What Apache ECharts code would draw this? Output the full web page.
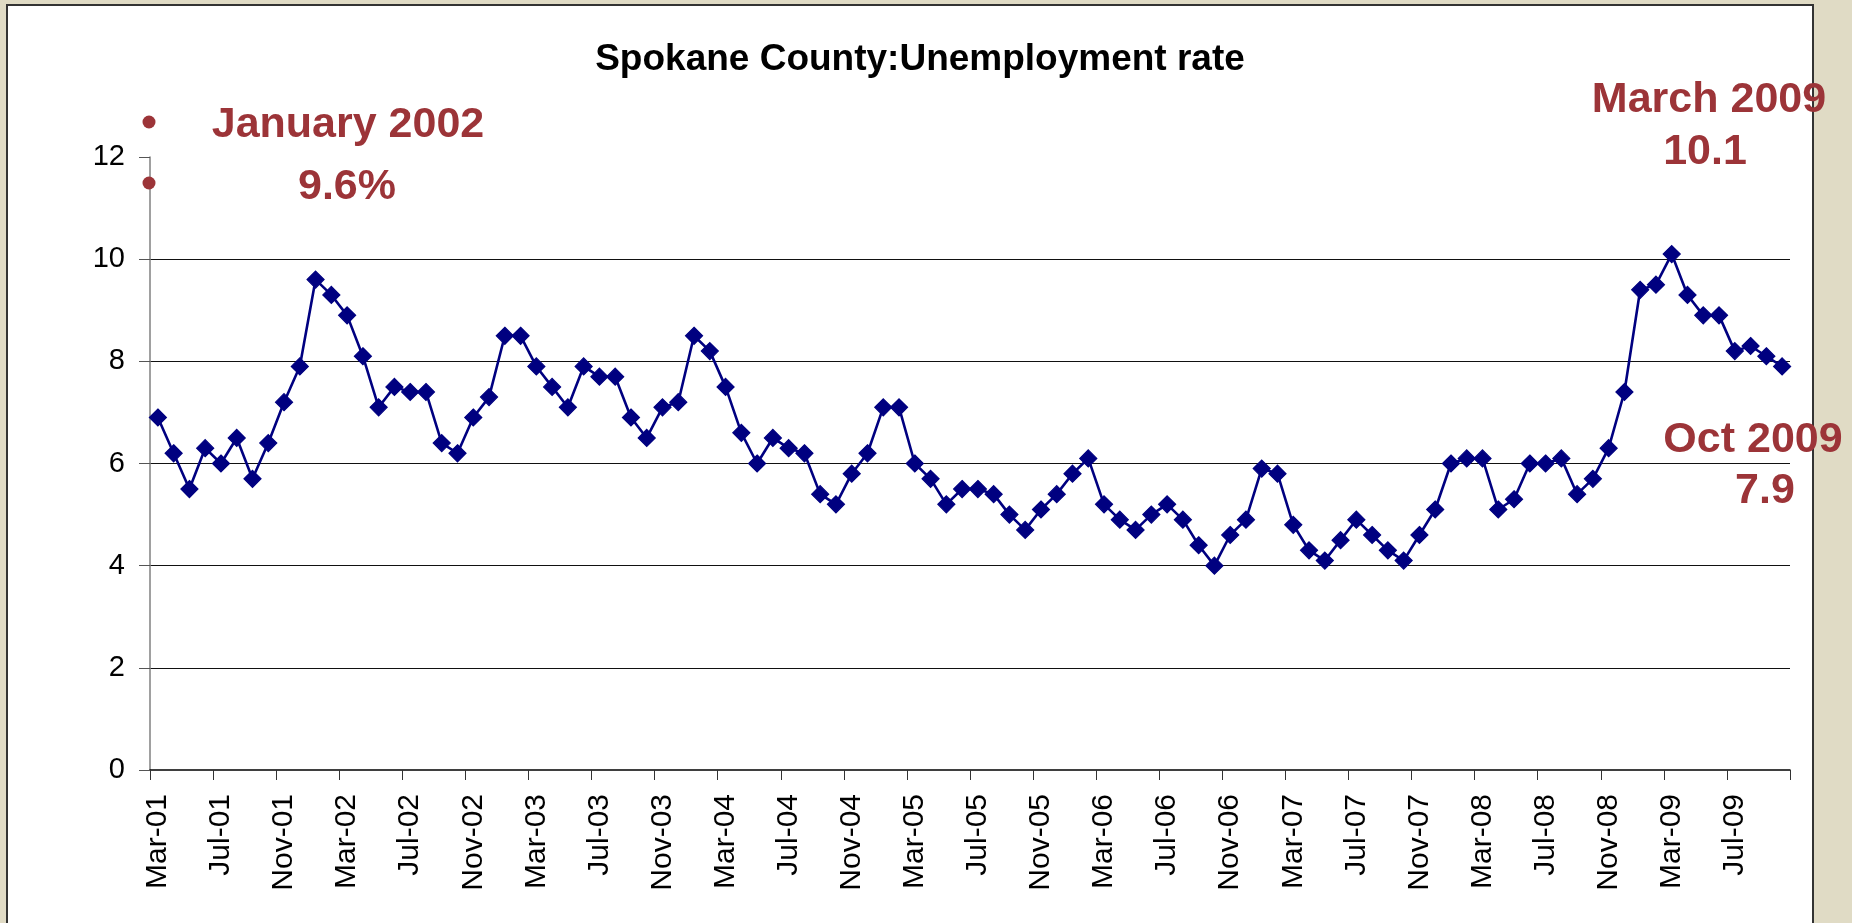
<!DOCTYPE html>
<html>
<head>
<meta charset="utf-8">
<script src="https://cdn.jsdelivr.net/npm/echarts@6/dist/echarts.min.js"></script>
<style>
  html, body { margin: 0; padding: 0; background: #E0DBC5; overflow: hidden; }
  #panel { position: absolute; left: 6px; top: 4px; width: 1808px; height: 940px; background: #ffffff; border: 2.5px solid #333333; box-sizing: border-box; }
  #chart { position: absolute; left: 0; top: 0; width: 1852px; height: 923px; }
</style>
</head>
<body>
<div id="panel"></div>
<div id="chart"></div>
<script>
const categories = [
  'Mar-01','Apr-01','May-01','Jun-01','Jul-01','Aug-01','Sep-01','Oct-01','Nov-01','Dec-01',
  'Jan-02','Feb-02','Mar-02','Apr-02','May-02','Jun-02','Jul-02','Aug-02','Sep-02','Oct-02','Nov-02','Dec-02',
  'Jan-03','Feb-03','Mar-03','Apr-03','May-03','Jun-03','Jul-03','Aug-03','Sep-03','Oct-03','Nov-03','Dec-03',
  'Jan-04','Feb-04','Mar-04','Apr-04','May-04','Jun-04','Jul-04','Aug-04','Sep-04','Oct-04','Nov-04','Dec-04',
  'Jan-05','Feb-05','Mar-05','Apr-05','May-05','Jun-05','Jul-05','Aug-05','Sep-05','Oct-05','Nov-05','Dec-05',
  'Jan-06','Feb-06','Mar-06','Apr-06','May-06','Jun-06','Jul-06','Aug-06','Sep-06','Oct-06','Nov-06','Dec-06',
  'Jan-07','Feb-07','Mar-07','Apr-07','May-07','Jun-07','Jul-07','Aug-07','Sep-07','Oct-07','Nov-07','Dec-07',
  'Jan-08','Feb-08','Mar-08','Apr-08','May-08','Jun-08','Jul-08','Aug-08','Sep-08','Oct-08','Nov-08','Dec-08',
  'Jan-09','Feb-09','Mar-09','Apr-09','May-09','Jun-09','Jul-09','Aug-09','Sep-09','Oct-09'
];

const unemploymentRate = [
  6.9, 6.2, 5.5, 6.3, 6.0, 6.5, 5.7, 6.4, 7.2, 7.9,
  9.6, 9.3, 8.9, 8.1, 7.1, 7.5, 7.4, 7.4, 6.4, 6.2, 6.9, 7.3,
  8.5, 8.5, 7.9, 7.5, 7.1, 7.9, 7.7, 7.7, 6.9, 6.5, 7.1, 7.2,
  8.5, 8.2, 7.5, 6.6, 6.0, 6.5, 6.3, 6.2, 5.4, 5.2, 5.8, 6.2,
  7.1, 7.1, 6.0, 5.7, 5.2, 5.5, 5.5, 5.4, 5.0, 4.7, 5.1, 5.4,
  5.8, 6.1, 5.2, 4.9, 4.7, 5.0, 5.2, 4.9, 4.4, 4.0, 4.6, 4.9,
  5.9, 5.8, 4.8, 4.3, 4.1, 4.5, 4.9, 4.6, 4.3, 4.1, 4.6, 5.1,
  6.0, 6.1, 6.1, 5.1, 5.3, 6.0, 6.0, 6.1, 5.4, 5.7, 6.3, 7.4,
  9.4, 9.5, 10.1, 9.3, 8.9, 8.9, 8.2, 8.3, 8.1, 7.9
];

const yTicks = [0, 2, 4, 6, 8, 10, 12];

const titleText = 'Spokane County:Unemployment rate';
const noteJan = ['January 2002', '9.6%'];
const noteMar = ['March 2009', '10.1'];
const noteOct = ['Oct 2009', '7.9'];

const FONT = '"Liberation Sans", Arial, Helvetica, sans-serif';
const RED = '#9C3438';
const noteFont = 'bold 43px ' + FONT;

const chart = echarts.init(document.getElementById('chart'), null, { renderer: 'canvas' });

chart.setOption({
  backgroundColor: 'transparent',
  animation: false,
  grid: { left: 150, right: 62, top: 157, bottom: 153, containLabel: false },
  xAxis: {
    type: 'category',
    data: categories,
    boundaryGap: true,
    axisLine: { show: true, lineStyle: { color: '#000000', width: 1.5 } },
    axisTick: { show: true, interval: 3, length: 10, lineStyle: { color: '#333333', width: 1 } },
    axisLabel: {
      interval: 3, rotate: 90, margin: 24,
      fontFamily: FONT, fontSize: 30, color: '#000000'
    },
    splitLine: { show: false }
  },
  yAxis: {
    type: 'value',
    min: yTicks[0],
    max: yTicks[yTicks.length - 1],
    interval: 2,
    axisLine: { show: true, lineStyle: { color: '#808080', width: 1.5 } },
    axisTick: { show: true, length: 11, lineStyle: { color: '#555555', width: 1 } },
    axisLabel: { margin: 25, fontFamily: FONT, fontSize: 29, color: '#000000' },
    splitLine: { show: true, showMaxLine: false, showMinLine: false, lineStyle: { color: '#111111', width: 1.2 } }
  },
  series: [{
    type: 'line',
    data: unemploymentRate,
    symbol: 'diamond',
    symbolSize: 17,
    showAllSymbol: true,
    lineStyle: { color: '#000080', width: 2.6 },
    itemStyle: { color: '#000080', borderColor: '#000080', borderWidth: 1.2 },
    z: 3
  }],
  graphic: [
    { type: 'text', z: 10, style: { text: titleText, x: 920, y: 60, align: 'center', verticalAlign: 'middle', font: 'bold 37px ' + FONT, fill: '#000000' } },
    { type: 'circle', z: 10, shape: { cx: 149, cy: 122, r: 6.5 }, style: { fill: RED } },
    { type: 'circle', z: 10, shape: { cx: 149, cy: 183, r: 6.5 }, style: { fill: RED } },
    { type: 'text', z: 10, style: { text: noteJan[0], x: 348, y: 125, align: 'center', verticalAlign: 'middle', font: noteFont, fill: RED } },
    { type: 'text', z: 10, style: { text: noteJan[1], x: 347, y: 187, align: 'center', verticalAlign: 'middle', font: noteFont, fill: RED } },
    { type: 'text', z: 10, style: { text: noteMar[0], x: 1709, y: 100, align: 'center', verticalAlign: 'middle', font: noteFont, fill: RED } },
    { type: 'text', z: 10, style: { text: noteMar[1], x: 1705, y: 152, align: 'center', verticalAlign: 'middle', font: noteFont, fill: RED } },
    { type: 'text', z: 10, style: { text: noteOct[0], x: 1753, y: 440, align: 'center', verticalAlign: 'middle', font: noteFont, fill: RED } },
    { type: 'text', z: 10, style: { text: noteOct[1], x: 1765, y: 491, align: 'center', verticalAlign: 'middle', font: noteFont, fill: RED } }
  ]
});
</script>
</body>
</html>
